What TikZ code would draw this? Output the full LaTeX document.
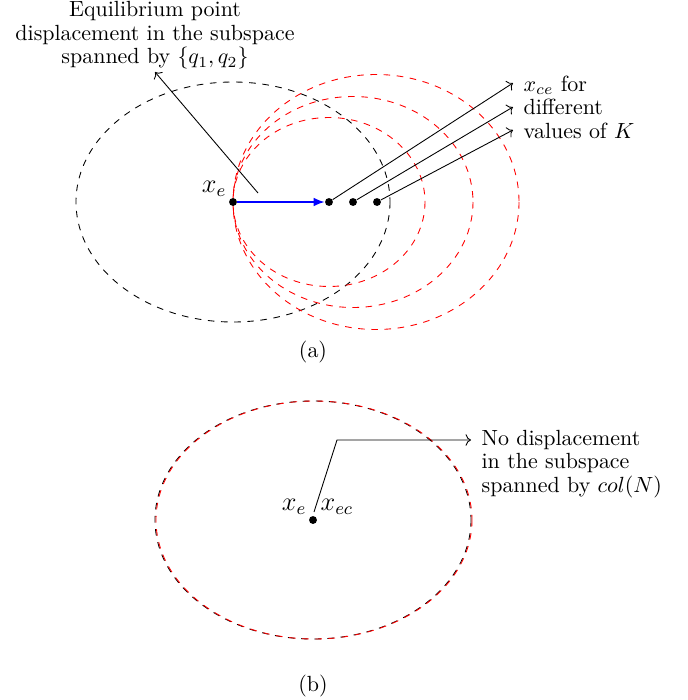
\documentclass[tikz,border=0pt]{standalone}
\usepackage{amsmath, amssymb}
\usetikzlibrary{arrows.meta, positioning}

\tikzset{
  pt/.style={circle, fill=black, inner sep=0pt, minimum size=3.6pt},
  txt/.style={font=\fontsize{10}{10.7}\selectfont, align=left, inner sep=1pt},
  big/.style={font=\large, inner sep=1pt},
}

\begin{document}
\begin{tikzpicture}[x=0.016cm, y=-0.016cm]
  \useasboundingbox (0,0) rectangle (688,700);
  % (a) original region
  \draw[dashed] (233,202) ellipse [x radius=157, y radius=120];
  % shifted regions
  \draw[red, dashed] (376,202) ellipse [x radius=143, y radius=127.5];
  \draw[red, dashed] (353,202) ellipse [x radius=120, y radius=105.5];
  \draw[red, dashed] (329,202) ellipse [x radius=96, y radius=84.5];
  % points
  \node[pt] (xe) at (233,202) {};
  \node[pt] (xc1) at (329,202) {};
  \node[pt] (xc2) at (353,202) {};
  \node[pt] (xc3) at (377,202) {};
  \node[big, anchor=south east] (xelbl) at (229,199) {$x_e$};
  \draw[blue, thick, -{Latex[length=5pt, width=4pt]}] (xe) -- (xc1);
  % labels
  \node[txt, align=center, anchor=south] (eqlbl) at (155,72)
    {Equilibrium point\\displacement in the subspace\\spanned by $\{q_1,q_2\}$};
  \coordinate (eqstart) at (258,193);
  \draw[->] (eqstart) -- (eqlbl.south);
  \node[txt, anchor=west] (kl) at (521,107) {$x_{ce}$ for\\different\\values of $K$};
  \coordinate (k1) at (513,83);
  \coordinate (k2) at (513,107);
  \coordinate (k3) at (513,130);
  \draw[->] (xc1) -- (k1);
  \draw[->] (xc2) -- (k2);
  \draw[->] (xc3) -- (k3);
  \node[txt] (capa) at (313,352) {(a)};

  % (b) no displacement
  \draw[dashed] (313,520) ellipse [x radius=158, y radius=119];
  \draw[red, dashed] (314,520) ellipse [x radius=158, y radius=119];
  \node[pt] (xeb) at (313,520) {};
  \node[big, anchor=south east] (xeblbl) at (309,517) {$x_e$};
  \node[big, anchor=south west] (xeclbl) at (318,517) {$x_{ec}$};
  \coordinate (bstart) at (314,512);
  \coordinate (bend) at (337,440);
  \node[txt, anchor=west] (nl) at (479,464) {No displacement\\in the subspace\\spanned by $col(N)$};
  \coordinate (nend) at (471,440);
  \draw[->] (bstart) -- (bend) -- (nend);
  \node[txt] (capb) at (313,686) {(b)};
\end{tikzpicture}
\end{document}
